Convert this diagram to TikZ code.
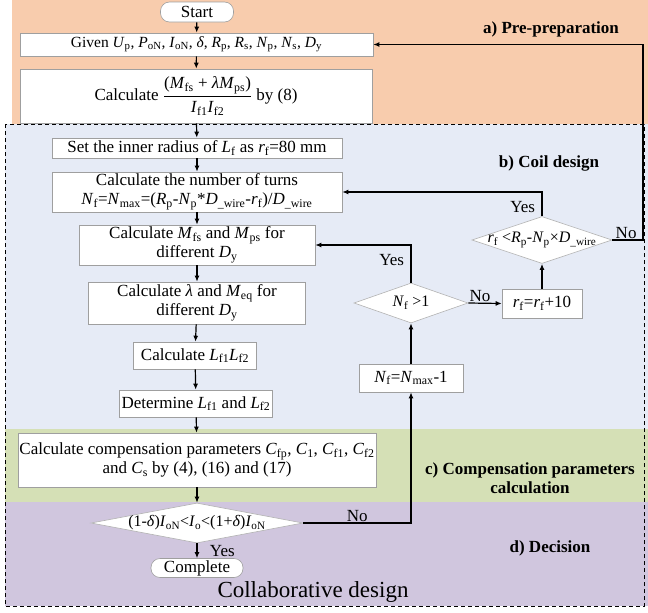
\documentclass[tikz,border=0pt]{standalone}
\usepackage{fontspec}
\setmainfont{Liberation Serif}
\usetikzlibrary{arrows.meta,shapes.geometric}
\definecolor{cOrange}{RGB}{248,204,173}
\definecolor{cBlue}{RGB}{230,235,246}
\definecolor{cGreen}{RGB}{213,224,182}
\definecolor{cPurple}{RGB}{208,198,222}
\newcommand{\V}[2]{\textit{#1}\textsubscript{#2}}
\begin{document}
\begin{tikzpicture}[x=1pt,y=-1pt,
  font=\fontsize{17}{19}\selectfont,
  box/.style={draw=gray!75, line width=0.6pt, fill=white, inner sep=0pt, align=center},
  term/.style={box, rounded corners=9pt},
  dia/.style={diamond, draw=gray!60, line width=0.6pt, fill=white, inner sep=0pt},
  arr/.style={-{Latex[length=6pt,width=5pt]}, line width=1.2pt},
  lab/.style={font=\fontsize{17}{19}\selectfont\bfseries, align=center},
  dlab/.style={font=\fontsize{16}{18}\selectfont}]
\useasboundingbox (0,0) rectangle (648,613);
% backgrounds
\fill[cOrange] (12,0) rectangle (648,124);
\fill[cBlue] (5,124) rectangle (648,429);
\fill[cGreen] (5,429) rectangle (648,502);
\fill[cPurple] (5,502) rectangle (648,606);
\draw[line width=1pt, dash pattern=on 4pt off 3pt] (5,124) rectangle (644,606);
% region labels
\node[lab] (la) at (551,29) {a) Pre-preparation};
\node[lab] (lb) at (549,163) {b) Coil design};
\node[lab] (lc) at (530,478) {c) Compensation parameters\\calculation};
\node[lab] (ld) at (550,548) {d) Decision};
\node[font=\fontsize{23}{25}\selectfont] (lcol) at (313,592) {Collaborative design};
% main column
\node[term, minimum width=73pt, minimum height=20pt] (start) at (197,12) {Start};
\node[box, minimum width=353pt, minimum height=23pt, font=\fontsize{15.5}{18}\selectfont] (given) at (196.5,44.5)
  {Given \V{U}{p}, \V{P}{oN}, \V{I}{oN}, \textit{δ}, \V{R}{p}, \V{R}{s}, \V{N}{p}, \V{N}{s}, \V{D}{y}};
\node[box, minimum width=352pt, minimum height=54pt] (calc) at (196,96)
  {Calculate $\displaystyle\frac{\hbox{(\V{M}{fs} + \textit{λ}\V{M}{ps})}}{\hbox{\V{I}{f1}\V{I}{f2}}}$ by (8)};
\node[box, minimum width=290pt, minimum height=20pt] (setr) at (197,148)
  {Set the inner radius of \V{L}{f} as \V{r}{f}=80 mm};
\node[box, minimum width=290pt, minimum height=40pt] (turns) at (197,192)
  {Calculate the number of turns\\\V{N}{f}=\V{N}{max}=(\V{R}{p}-\V{N}{p}*\V{D}{\_wire}-\V{r}{f})/\V{D}{\_wire}};
\node[box, minimum width=236pt, minimum height=40pt] (mfs) at (197,245)
  {Calculate \V{M}{fs} and \V{M}{ps} for\\different \V{D}{y}};
\node[box, minimum width=217pt, minimum height=42pt] (lam) at (197,303)
  {Calculate \textit{λ} and \V{M}{eq} for\\different \V{D}{y}};
\node[box, minimum width=123pt, minimum height=27pt] (lf) at (195,355.5)
  {Calculate \V{L}{f1}\V{L}{f2}};
\node[box, minimum width=153pt, minimum height=27pt] (det) at (196,403.5)
  {Determine \V{L}{f1} and \V{L}{f2}};
\node[box, minimum width=358pt, minimum height=54pt] (comp) at (197,460)
  {Calculate compensation parameters \V{C}{fp}, \V{C}{1}, \V{C}{f1}, \V{C}{f2}\\and \V{C}{s} by (4), (16) and (17)};
\node[dia, minimum width=212pt, minimum height=40pt,
  label={[dlab]center:(1-\textit{δ})\V{I}{oN}<\V{I}{o}<(1+\textit{δ})\V{I}{oN}}] (dec) at (197,523) {};
\node[term, minimum width=92pt, minimum height=19pt] (done) at (197,568) {Complete};
% right column
\node[box, minimum width=104pt, minimum height=28pt] (nfm) at (411,378) {\V{N}{f}=\V{N}{max}-1};
\node[dia, minimum width=114pt, minimum height=40pt,
  label={[dlab]center:\V{N}{f} >1}] (nf1) at (411,303) {};
\node[box, minimum width=80pt, minimum height=29pt] (rf) at (542,303.5) {\V{r}{f}=\V{r}{f}+10};
\node[dia, minimum width=140pt, minimum height=47pt,
  label={[dlab]center:\V{r}{f} <\V{R}{p}-\V{N}{p}×\V{D}{\_wire}}] (rfd) at (542,240) {};
\coordinate (cr) at (643,240);
% connectors
\draw[arr] (start) -- (given);
\draw[arr] (given) -- (calc);
\draw[arr] (calc) -- (setr);
\draw[arr] (setr) -- (turns);
\draw[arr] (turns) -- (mfs);
\draw[arr] (mfs) -- (lam);
\draw[arr] (lam) -- (lf);
\draw[arr] (lf) -- (det);
\draw[arr] (det) -- (comp);
\draw[arr] (comp) -- (dec);
\draw[arr] (dec) -- node[right=9pt] {Yes} (done);
\draw[arr] (dec.east) -| node[pos=0.25, above, inner sep=1pt] {No} (nfm.south);
\draw[arr] (nfm) -- (nf1);
\draw[arr] (nf1.north) |- node[pos=0.3, left=3pt] {Yes} (mfs.east);
\draw[arr] (nf1.east) -- node[above, inner sep=1pt, pos=0.35] {No} (rf.west);
\draw[arr] (rf) -- (rfd);
\draw[arr] (rfd.north) |- node[pos=0.2, left=3pt] {Yes} (turns.east);
\draw[arr] (rfd.east) -- node[above, inner sep=1pt, pos=0.45] {No} (cr) |- (given.east);
\end{tikzpicture}
\end{document}
